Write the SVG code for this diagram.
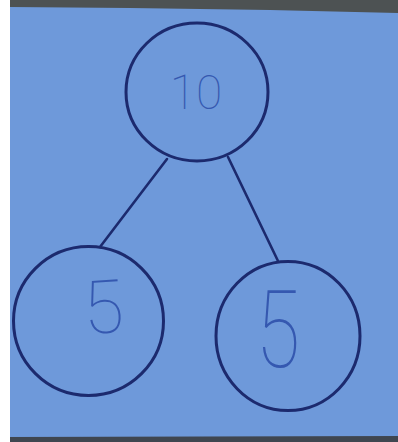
<svg xmlns="http://www.w3.org/2000/svg" width="398" height="442" viewBox="0 0 398 442">
<style>
.node{fill:none;stroke:#1c2a6e;stroke-width:3}
.edge{stroke:#1c2a6e;stroke-width:2.6;stroke-linecap:round;fill:none}
.lbl{font-family:Roboto,"Liberation Sans",sans-serif;font-weight:100;fill:#3558b0;text-anchor:middle}
</style>
<rect x="0" y="0" width="398" height="442" fill="#ffffff"/>
<rect x="10" y="0" width="388" height="442" fill="#6e99da"/>
<polygon points="10,0 398,0 398,13 270,10 130,8 10,7" fill="#4d5253"/>
<polygon points="10,437 398,436 398,442 10,442" fill="#3f4650"/>
<g id="connectors">
<line class="edge" x1="167" y1="159" x2="100" y2="247"/>
<line class="edge" x1="228" y1="157" x2="278" y2="261"/>
</g>
<g id="node-10">
<ellipse class="node" cx="197" cy="92" rx="71" ry="69"/>
<text class="lbl" x="196" y="109" font-size="48">10</text>
</g>
<g id="node-5-left">
<ellipse class="node" cx="88.5" cy="321" rx="75" ry="74.5"/>
<text class="lbl" x="103" y="333" font-size="74" transform="rotate(-4 103 305)">5</text>
</g>
<g id="node-5-right">
<ellipse class="node" cx="288" cy="336" rx="72" ry="74.5"/>
<text class="lbl" font-size="108" transform="translate(278 367) scale(0.75 1)">5</text>
</g>
</svg>
